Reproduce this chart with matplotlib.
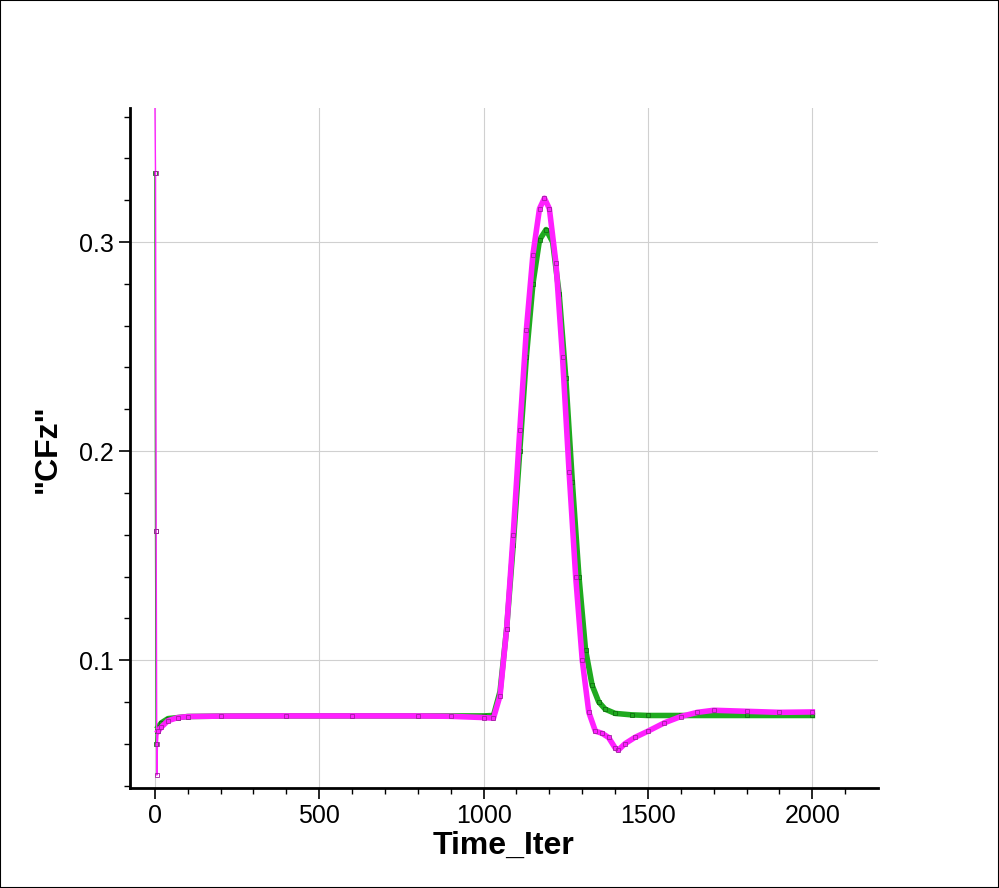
import matplotlib
matplotlib.use('Agg')
import matplotlib.pyplot as plt

plt.rcParams['font.family'] = ['Liberation Sans', 'DejaVu Sans']

# Values
iter_green = [0, 2, 4, 6, 10, 20, 40, 70, 100, 200, 400, 600, 800, 1000, 1030, 1050,
              1070, 1090, 1110, 1130, 1150, 1170, 1190, 1210, 1230, 1250, 1270, 1290,
              1310, 1330, 1350, 1370, 1400, 1450, 1500, 1600, 1800, 2000]
cfz_green = [0.333, 0.162, 0.060, 0.066, 0.068, 0.070, 0.072, 0.0725, 0.073, 0.0732, 0.0733,
             0.0733, 0.0733, 0.0733, 0.0735, 0.085, 0.115, 0.155, 0.200, 0.245, 0.280,
             0.301, 0.306, 0.300, 0.275, 0.235, 0.185, 0.140, 0.105, 0.088, 0.080, 0.0765,
             0.0745, 0.0738, 0.0735, 0.0735, 0.0735, 0.0735]

iter_mag = [0, 2, 4, 6, 8, 10, 20, 40, 70, 100, 200, 400, 600, 800, 900, 1000, 1030, 1050,
            1070, 1090, 1110, 1130, 1150, 1170, 1185, 1200, 1220, 1240, 1260, 1280, 1300,
            1320, 1340, 1360, 1380, 1400, 1410, 1430, 1460, 1500, 1550, 1600, 1650, 1700,
            1800, 1900, 2000]
cfz_mag = [0.37, 0.333, 0.162, 0.045, 0.060, 0.066, 0.068, 0.071, 0.0725, 0.073, 0.0732,
           0.0733, 0.0733, 0.0733, 0.0731, 0.0725, 0.0722, 0.083, 0.115, 0.160, 0.210,
           0.258, 0.294, 0.316, 0.321, 0.316, 0.290, 0.245, 0.190, 0.140, 0.100, 0.075,
           0.066, 0.065, 0.063, 0.058, 0.057, 0.060, 0.063, 0.066, 0.070, 0.073, 0.075,
           0.076, 0.0755, 0.075, 0.0752]

fig = plt.figure(figsize=(9.99, 8.88), dpi=100)
ax = fig.add_axes([0.130, 0.1126, 0.749, 0.7654])

# start-up transient is drawn thin, the rest thick (dense markers in the original)
n0 = 5
ax.plot(iter_green[:n0], cfz_green[:n0], color='#1faa1f', lw=1, marker='s', ms=3,
        mfc='none', mec='#107010', mew=0.6, zorder=3)
ax.plot(iter_green[n0 - 1:], cfz_green[n0 - 1:], color='#1faa1f', lw=4, marker='s', ms=3,
        mfc='none', mec='#107010', mew=0.6, zorder=3)
ax.plot(iter_mag[:n0 + 1], cfz_mag[:n0 + 1], color='#ff20ff', lw=1, marker='s', ms=3,
        mfc='none', mec='#a020a0', mew=0.6, zorder=4)
ax.plot(iter_mag[n0:], cfz_mag[n0:], color='#ff20ff', lw=4, marker='s', ms=3,
        mfc='none', mec='#a020a0', mew=0.6, zorder=4)

ax.set_xlim(-76, 2200)
ax.set_ylim(0.0388, 0.364)
ax.set_xticks([0, 500, 1000, 1500, 2000])
ax.set_xticks(range(0, 2200, 100), minor=True)
ax.set_yticks([0.1, 0.2, 0.3])
ax.set_yticks([0.04, 0.06, 0.08, 0.12, 0.14, 0.16, 0.18, 0.22, 0.24, 0.26, 0.28,
               0.32, 0.34, 0.36], minor=True)
ax.set_yticklabels(['0.1', '0.2', '0.3'])
ax.grid(True, which='major', color='#d0d0d0', lw=0.8)
ax.tick_params(which='major', length=8, width=1.2, labelsize=18)
ax.tick_params(which='minor', length=4, width=1)
ax.spines['top'].set_visible(False)
ax.spines['right'].set_visible(False)
ax.spines['left'].set_linewidth(2)
ax.spines['bottom'].set_linewidth(2)

ax.set_xlabel('Time_Iter', fontsize=23, fontweight='bold', labelpad=2)
ax.set_ylabel('"CFz"', fontsize=23, fontweight='bold', labelpad=12)

fig.patches.append(plt.Rectangle((0, 0), 1, 1, transform=fig.transFigure,
                                 fill=False, edgecolor='black', lw=1.5))
fig.savefig('out.png', dpi=100)
